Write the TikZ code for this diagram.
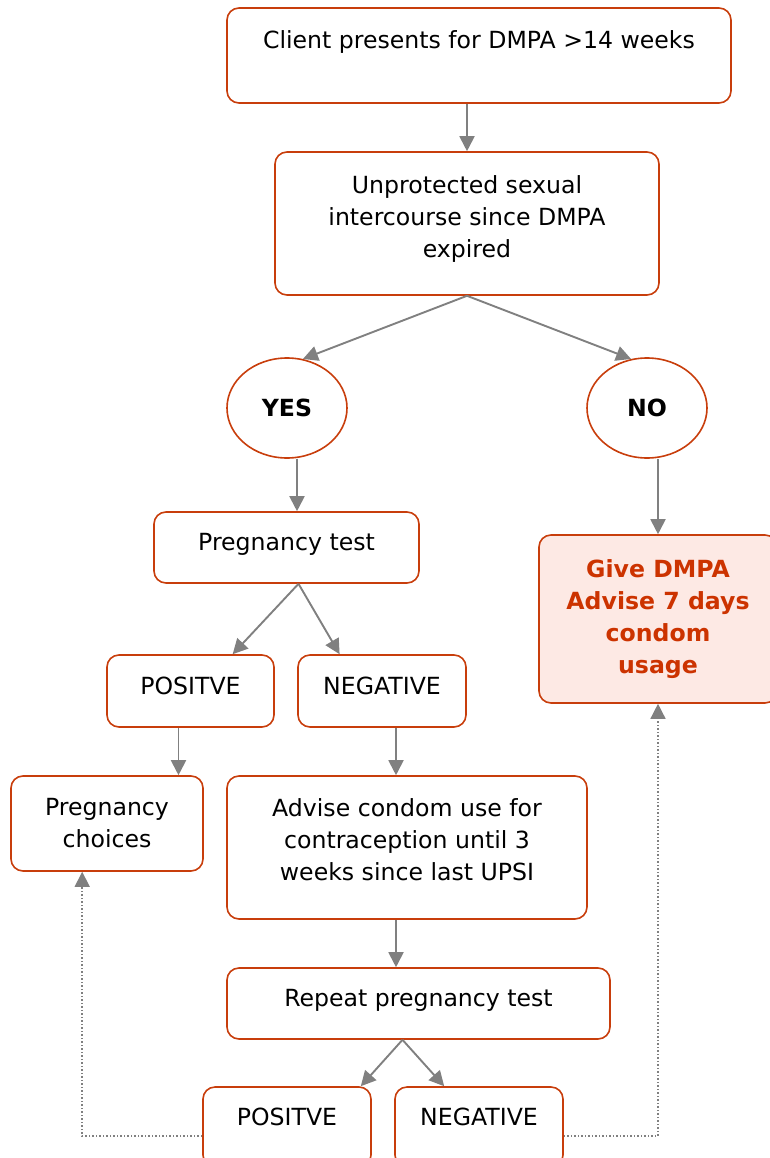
\documentclass[tikz,border=0pt]{standalone}
\usepackage{fontspec}
\setmainfont{DejaVu Sans}
\usetikzlibrary{arrows.meta,shapes.geometric,calc}
\definecolor{boxred}{RGB}{200,62,12}
\definecolor{givered}{RGB}{204,51,0}
\definecolor{givefill}{RGB}{253,233,228}
\definecolor{linegray}{RGB}{128,128,128}
\begin{document}
\begin{tikzpicture}[x=1pt, y=-1pt, every node/.style={font=\fontsize{23.6}{32}\selectfont, align=center, inner sep=0pt}, >={Triangle[length=15pt,width=15pt]},
	box/.style={draw=boxred, line width=1.6pt, rounded corners=12pt, rectangle},
	oval/.style={draw=boxred, line width=1.6pt, ellipse, minimum width=120pt, minimum height=100pt, font=\fontsize{23.6}{32}\selectfont\bfseries},
	flow/.style={draw=linegray, line width=1.9pt, ->},
	dots/.style={draw=linegray, line width=1.5pt, dotted, ->}]
	\useasboundingbox (0,0) rectangle (770,1158);
	\node (client) [box, minimum width=504pt, text height=41pt, text depth=54pt] at (479,55.5) {Client presents for DMPA >14 weeks};
	\node (unprot) [box, minimum width=384pt, minimum height=143pt, text depth=14pt] at (467,223.5) {Unprotected sexual\\ intercourse since DMPA\\ expired};
	\node (yes) [oval] at (287,408) {YES};
	\node (no) [oval] at (647,408) {NO};
	\node (ptest) [box, minimum width=265pt, minimum height=71pt, text depth=11pt] at (286.5,547.5) {Pregnancy test};
	\node (give) [box, fill=givefill, minimum width=238pt, minimum height=168pt, text=givered, font=\fontsize{23.6}{32}\selectfont\bfseries] at (658,619) {Give DMPA\\ Advise 7 days\\ condom\\ usage};
	\node (posA) [box, minimum width=167pt, minimum height=72pt, text depth=10pt] at (190.5,691) {POSITVE};
	\node (negA) [box, minimum width=168pt, minimum height=72pt, text depth=10pt] at (382,691) {NEGATIVE};
	\node (choices) [box, minimum width=192pt, minimum height=95pt] at (107,823.5) {Pregnancy\\ choices};
	\node (advise) [box, minimum width=360pt, minimum height=143pt, text depth=16pt] at (407,847.5) {Advise condom use for\\ contraception until 3\\ weeks since last UPSI};
	\node (repeat) [box, minimum width=383pt, minimum height=71pt, text depth=11pt] at (418.5,1003.5) {Repeat pregnancy test};
	\node (posB) [box, minimum width=168pt, minimum height=80pt, text depth=20pt] at (287,1127) {POSITVE};
	\node (negB) [box, minimum width=168pt, minimum height=80pt, text depth=20pt] at (479,1127) {NEGATIVE};
	\draw[flow] (client.south -| unprot.north) -- (unprot.north);
	\draw[flow] (unprot.south) -- (yes.72);
	\draw[flow] (unprot.south) -- (no.108);
	\draw[flow] ([xshift=10pt]yes.south) -- ([xshift=10pt]yes.south |- ptest.north);
	\draw[flow] (give.north |- no.south) -- (give.north);
	\draw[flow] ([xshift=12pt]ptest.south) -- ($(posA.north)!0.5!(posA.north east)$);
	\draw[flow] ([xshift=12pt]ptest.south) -- ($(negA.north west)!0.5!(negA.north)$);
	\draw[flow] ([xshift=-12pt]posA.south) -- ([xshift=-12pt]posA.south |- choices.north);
	\draw[flow] ([xshift=14pt]negA.south) -- ([xshift=14pt]negA.south |- advise.north);
	\draw[flow] ([xshift=-11pt]advise.south) -- ([xshift=-11pt]advise.south |- repeat.north);
	\draw[flow] ([xshift=-16pt]repeat.south) -- ([xshift=-11pt]posB.north east);
	\draw[flow] ([xshift=-16pt]repeat.south) -- ([xshift=50pt]negB.north west);
	\draw[dots] ([yshift=-9pt]posB.west) -| ([xshift=72pt]choices.south west);
	\draw[dots] ([yshift=-9pt]negB.east) -| (give.south);
\end{tikzpicture}
\end{document}
